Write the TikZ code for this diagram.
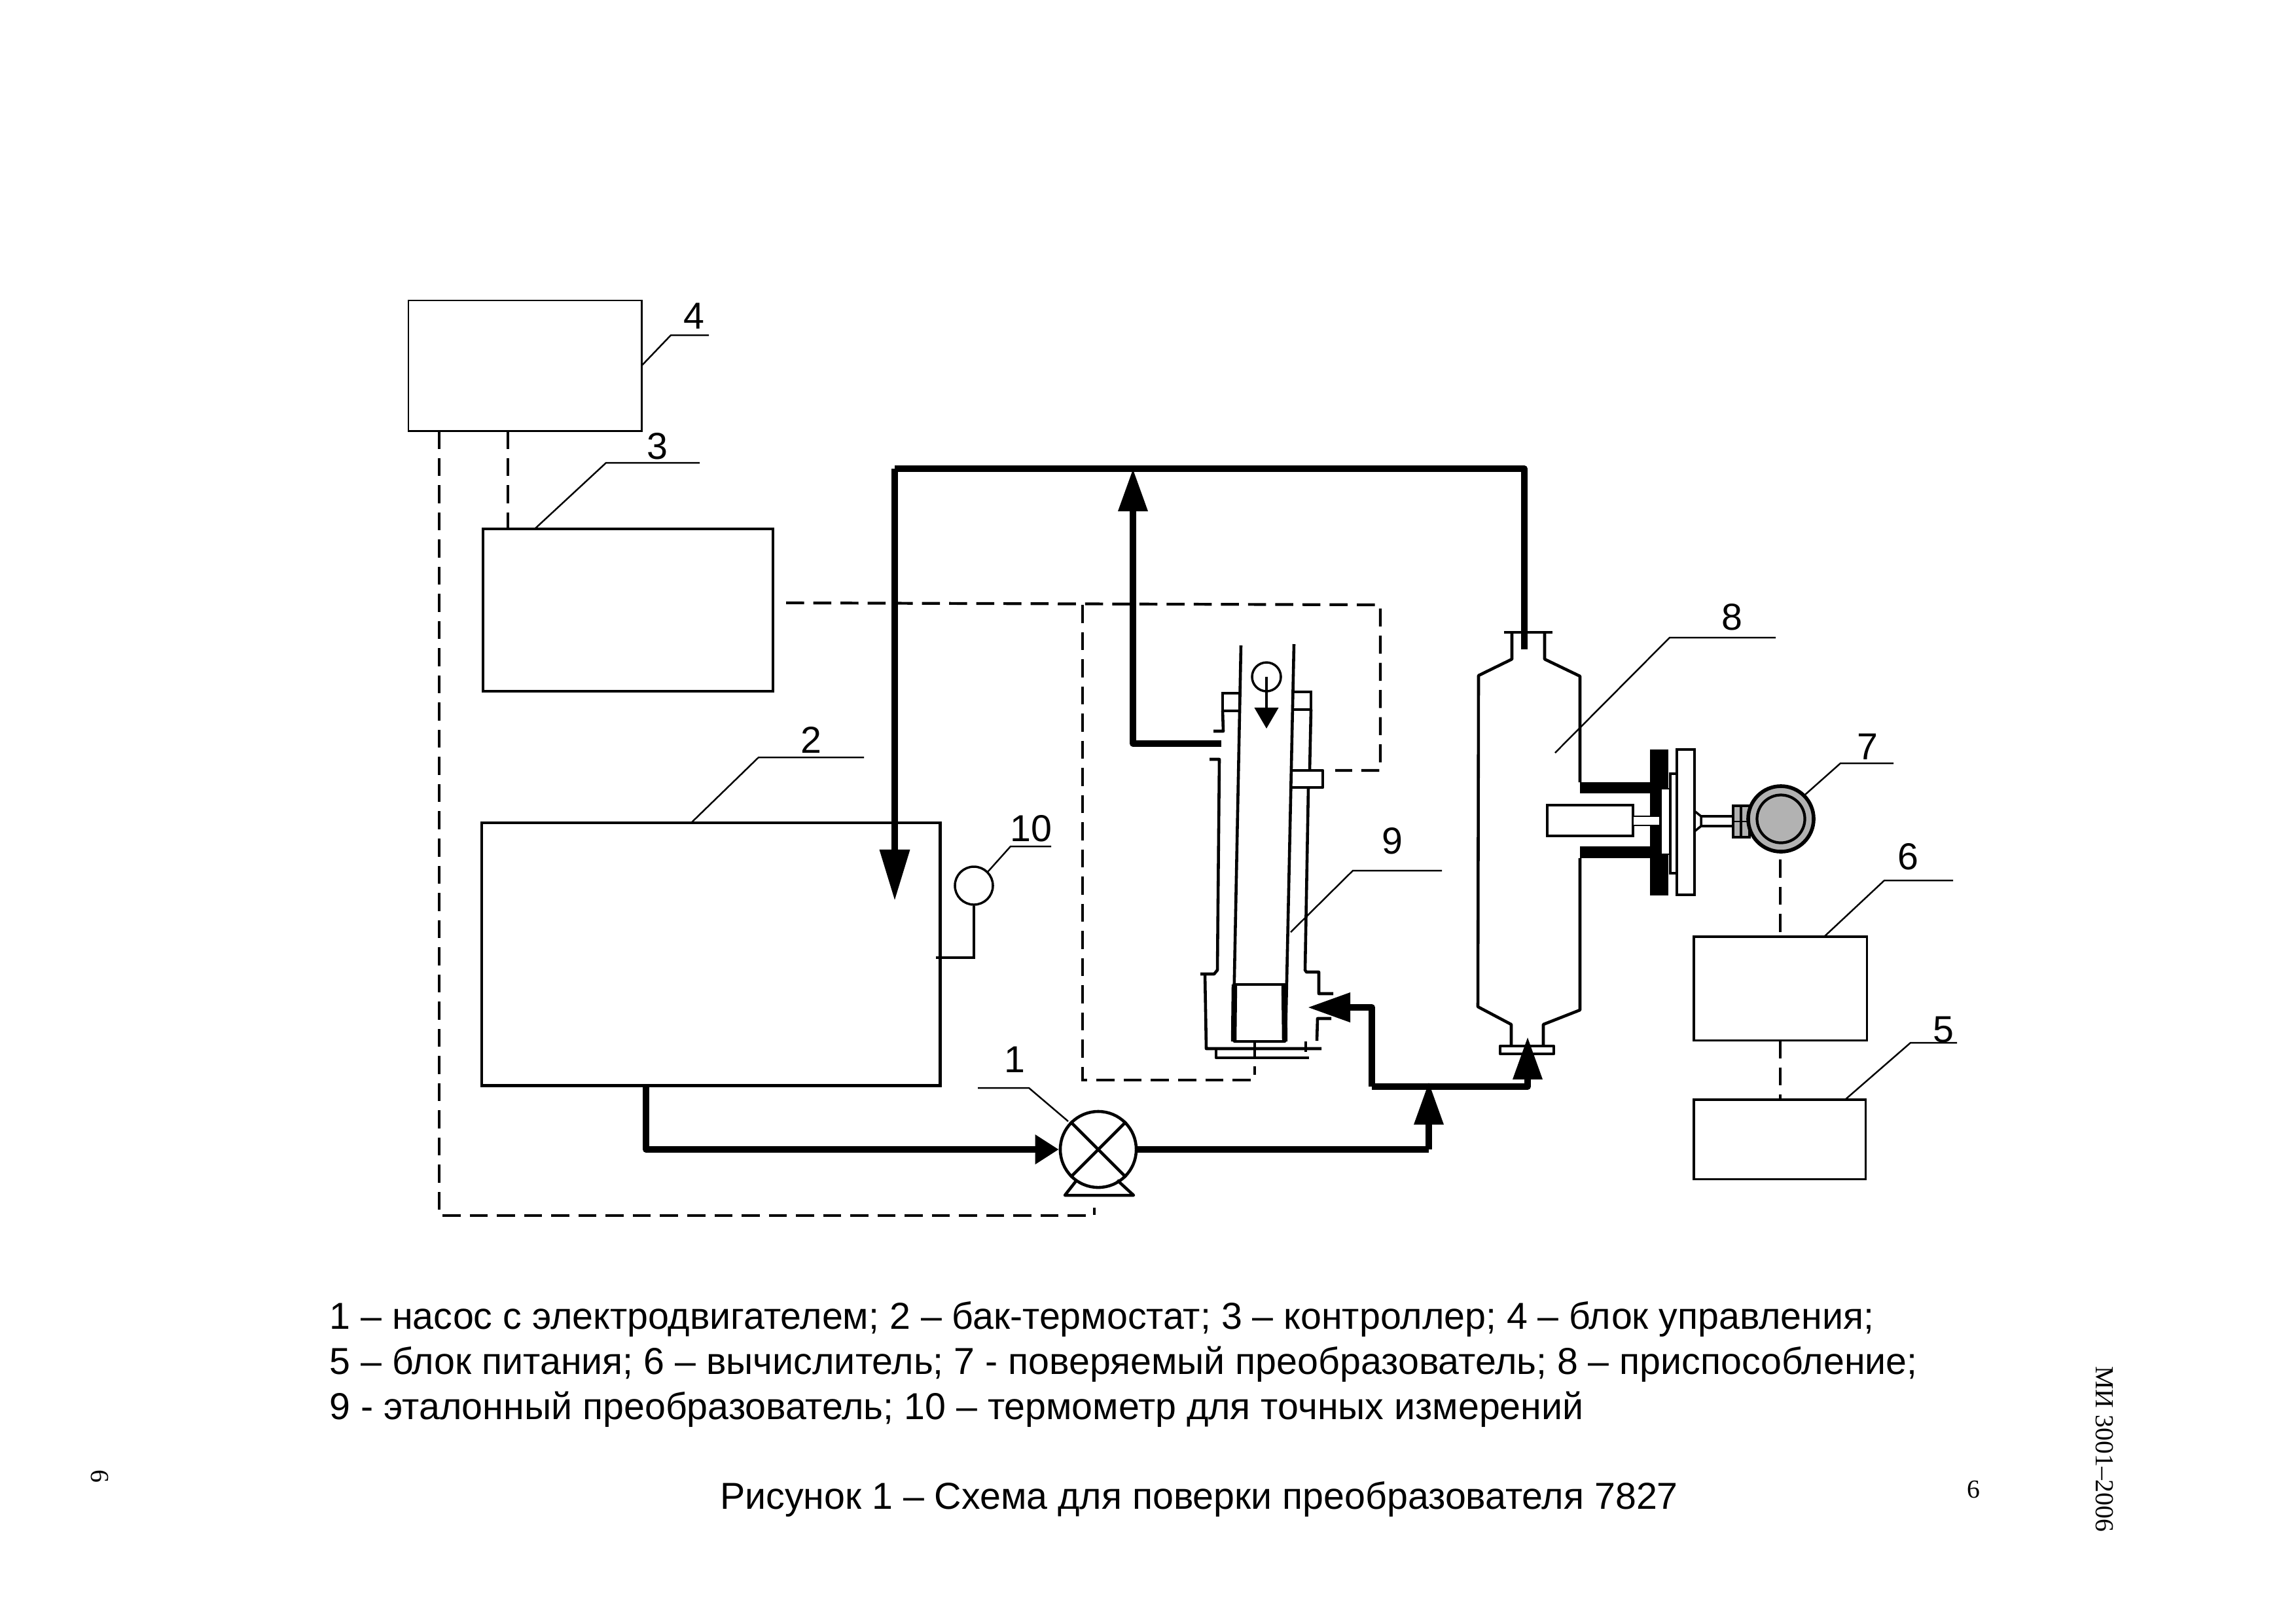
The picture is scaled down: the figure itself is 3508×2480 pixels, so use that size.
\documentclass[tikz,border=0pt]{standalone}
\usepackage{fontspec}
\setmainfont{Liberation Sans}
\newfontfamily\pagefont{Liberation Serif}
\usetikzlibrary{arrows.meta}
\tikzset{
  wire/.style = {line width = 1pt},
  leader/.style = {line width = 0.7pt},
  ctrl/.style = {line width = 1.2pt, dash pattern = on 0.275cm off 0.14cm},
  pipe/.style = {line width = 2.8pt, line join = round},
  wall/.style = {line width = 1.3pt, line join = round},
  blockbox/.style = {draw, line width = 1pt, anchor = north west, inner sep = 0, outer sep = 0},
  num/.style = {font = \fontsize{16.3pt}{18pt}\selectfont, inner sep = 0},
  legend/.style = {font = \fontsize{16.3pt}{18pt}\selectfont, inner sep = 0, anchor = base west},
  pagemark/.style = {font = \pagefont\fontsize{11.3pt}{14pt}\selectfont, inner sep = 0},
  bigtip/.style = {-{Triangle[length = 6.5mm, width = 4.3mm]}},
}
\begin{document}
\begin{tikzpicture}[x = 0.01cm, y = -0.01cm, draw = black]
\useasboundingbox (0,0) rectangle (3508,2480);
% blocks
\node[blockbox, line width = 0.8pt, minimum width = 3.56cm, minimum height = 1.99cm] (control) at (624,459) {};
\node[blockbox, line width = 1.2pt, minimum width = 4.43cm, minimum height = 2.48cm] (contr) at (738,808) {};
\node[blockbox, line width = 1.35pt, minimum width = 7cm, minimum height = 4.01cm] (tank) at (736,1257) {};
\node[blockbox, line width = 0.9pt, minimum width = 2.64cm, minimum height = 1.58cm] (calc) at (2588,1431) {};
\node[blockbox, line width = 0.9pt, minimum width = 2.62cm, minimum height = 1.21cm] (power) at (2588,1680) {};
% thermometer on the tank
\node[draw, wire, circle, minimum size = 0.58cm, inner sep = 0] (therm) at (1488,1353) {};
\coordinate (thermfoot) at (1430,1463);
\draw[wire] (therm.south) -- (therm.south |- thermfoot) -- (thermfoot);
% pump
\node[draw, line width = 1.3pt, circle, minimum size = 1.16cm, inner sep = 0] (pump) at (1678,1756) {};
\draw[line width = 1.3pt] (pump.45) -- (pump.225);
\draw[line width = 1.3pt] (pump.135) -- (pump.315);
\draw[line width = 1.3pt, line join = round] (1645,1803) -- (1627,1826) -- (1732,1826) -- (1707,1803);
% reference transducer
\draw[wall] (1896,986) -- (1884,1591);
\draw[wall] (1977,984) -- (1964,1591);
\draw[line width = 2.4pt] (1886,1504) -- (1885,1591);
\draw[line width = 2.4pt] (1962,1504) -- (1963,1591);
\draw[wall] (1886,1504) rectangle (1963,1591);
\draw[wire] (1895,1059) -- (1868,1059) -- (1868,1086) -- (1895,1086);
\draw[wall] (1868,1086) -- (1869,1117) -- (1854,1117);
\draw[wire] (1976,1057) -- (2003,1057) -- (2003,1084) -- (1976,1084);
\draw[wall] (2003,1084) -- (2001,1177);
\draw[wall] (1973,1177) -- (2021,1177) -- (2021,1203) -- (1973,1203);
\draw[wall] (1999,1203) -- (1994,1482) -- (1996,1485) -- (2015,1485) -- (2015,1518) -- (2037,1518);
\draw[wall] (1848,1160) -- (1863,1160) -- (1860,1482) -- (1855,1488) -- (1834,1488);
\draw[wall] (1841,1488) -- (1843,1602) -- (2019,1602);
\draw[wall] (1858,1604) -- (1858,1616) -- (2000,1616);
\draw[wire] (1917,1591) -- (1917,1616);
\draw[wire] (1995,1591) -- (1995,1607);
\draw[wall] (2012,1590) -- (2013,1556) -- (2034,1556);
\node[draw, wire, circle, minimum size = 0.44cm, inner sep = 0] (float) at (1935,1034) {};
\draw[wall, -{Triangle[length = 3.2mm, width = 3.6mm]}] (float.center) -- (1935,1113);
% fixture
\draw[wall] (2298,966) -- (2372,966);
\draw[wall] (2310,966) -- (2310,1007) -- (2259,1032) -- (2258,1538) -- (2309,1565) -- (2309,1596);
\draw[wall] (2360,966) -- (2360,1007) -- (2414,1033) -- (2414,1195);
\draw[wall] (2414,1311) -- (2414,1543) -- (2358,1565) -- (2358,1596);
\draw[wall] (2292,1598) rectangle (2374,1610);
\fill (2414,1195) rectangle (2521,1212);
\fill (2414,1293) rectangle (2521,1311);
\fill (2521,1145) rectangle (2549,1368);
\filldraw[fill = white, line width = 0.6pt] (2538,1205) rectangle (2552,1305);
\filldraw[fill = white, wire] (2364,1230) rectangle (2495,1277);
\filldraw[fill = white, line width = 0.6pt] (2495,1247) rectangle (2536,1261);
\filldraw[fill = white, wire] (2552,1182) rectangle (2562,1334);
\filldraw[fill = white, wire] (2562,1145) rectangle (2589,1367);
\draw[wire] (2589,1239) -- (2599,1247) -- (2599,1262) -- (2589,1270);
\draw[wire] (2599,1247) -- (2648,1247);
\draw[wire] (2599,1262) -- (2648,1262);
% transmitter head
\filldraw[fill = black!30, wire] (2648,1231) rectangle (2673,1279);
\draw[wall] (2648,1231) -- (2648,1279);
\draw[line width = 0.7pt] (2648,1255) -- (2673,1255);
\draw[wire] (2660,1231) -- (2660,1279);
\node[draw, line width = 1.6pt, fill = black!30, circle, minimum size = 1cm, inner sep = 0] (head) at (2721,1251) {};
\node[draw, line width = 1.2pt, fill = black!30, circle, minimum size = 0.73cm, inner sep = 0] (headin) at (2721,1251) {};
% water circuit
\coordinate (tankout) at (987,1658);
\coordinate (tee) at (2183,1756);
\coordinate (topl) at (1367,716);
\coordinate (topr) at (2329,716);
\draw[pipe, -{Triangle[length = 3.6mm, width = 4.3mm]}] (tankout) -- (987,1756) -- (pump.west);
\draw[pipe] (pump.east) -- (tee);
\draw[pipe, bigtip] (tee) -- (2183,1653);
\draw[pipe, bigtip] (2096,1660) -- (2096,1539) -- (1998,1539);
\draw[pipe, bigtip] (2096,1660) -- (2334,1660) -- (2334,1584);
\draw[pipe] (2329,992) -- (topr) -- (topl);
\draw[pipe, -{Triangle[length = 7.8mm, width = 4.4mm]}] (topl) -- (1367,1376);
\draw[pipe, bigtip] (1866,1136) -- (1731,1136) -- (1731,716);
% control lines
\coordinate (controut) at (1201,921);
\coordinate (corner) at (2109,924);
\coordinate (branch) at (1654,924);
\coordinate (lowfoot) at (1917,1629);
\coordinate (pumpfoot) at (1672,1845);
\draw[ctrl] (controut) -- (corner) -- (2109,1177) -- (2040,1177);
\draw[ctrl] (branch) -- (1654,1650) -- (1917,1650) -- (lowfoot);
\draw[ctrl] (control.south -| 776,0) -- (contr.north -| 776,0);
\draw[ctrl] (control.south -| 671,0) -- (671,1857) -- (1672,1857) -- (pumpfoot);
\draw[ctrl] (2720,1313) -- (calc.north -| 2720,0);
\draw[ctrl] (calc.south -| 2720,0) -- (power.north -| 2720,0);
% leaders
\draw[leader] (980,559) -- (1025,512) -- (1083,512);
\draw[leader] (817,808) -- (926,707) -- (1069,707);
\draw[leader] (1056,1257) -- (1159,1157) -- (1320,1157);
\draw[leader] (therm.45) -- (1544,1293) -- (1606,1293);
\draw[leader] (1632,1713) -- (1572,1662) -- (1494,1662);
\draw[leader] (1972,1424) -- (2067,1330) -- (2203,1330);
\draw[leader] (2376,1150) -- (2551,974) -- (2713,974);
\draw[leader] (head.45) -- (2812,1166) -- (2893,1166);
\draw[leader] (2787,1431) -- (2879,1345) -- (2984,1345);
\draw[leader] (2819,1680) -- (2919,1593) -- (2990,1593);
% numbers
\node[num] (n1) at (1550,1619) {1};
\node[num] (n2) at (1239,1130) {2};
\node[num] (n3) at (1004,682) {3};
\node[num] (n4) at (1060,483) {4};
\node[num] (n5) at (2969,1573) {5};
\node[num] (n6) at (2915,1309) {6};
\node[num] (n7) at (2853,1141) {7};
\node[num] (n8) at (2646,943) {8};
\node[num] (n9) at (2127,1285) {9};
\node[num] (n10) at (1575,1266) {10};
% legend
\node[legend] (leg1) at (503,2030) {1 – насос с электродвигателем; 2 – бак-термостат; 3 – контроллер; 4 – блок управления;};
\node[legend] (leg2) at (503,2099) {5 – блок питания; 6 – вычислитель; 7 - поверяемый преобразователь; 8 – приспособление;};
\node[legend] (leg3) at (503,2168) {9 - эталонный преобразователь; 10 – термометр для точных измерений};
\node[num] (caption) at (1832,2290) {Рисунок 1 – Схема для поверки преобразователя 7827};
% page marks
\node[pagemark] (pageno) at (3015,2275) {6};
\node[pagemark, rotate = -90] (doc) at (3215,2214) {МИ 3001–2006};
\node[pagemark, rotate = -90] (pagerot) at (152,2255) {6};
\end{tikzpicture}
\end{document}
